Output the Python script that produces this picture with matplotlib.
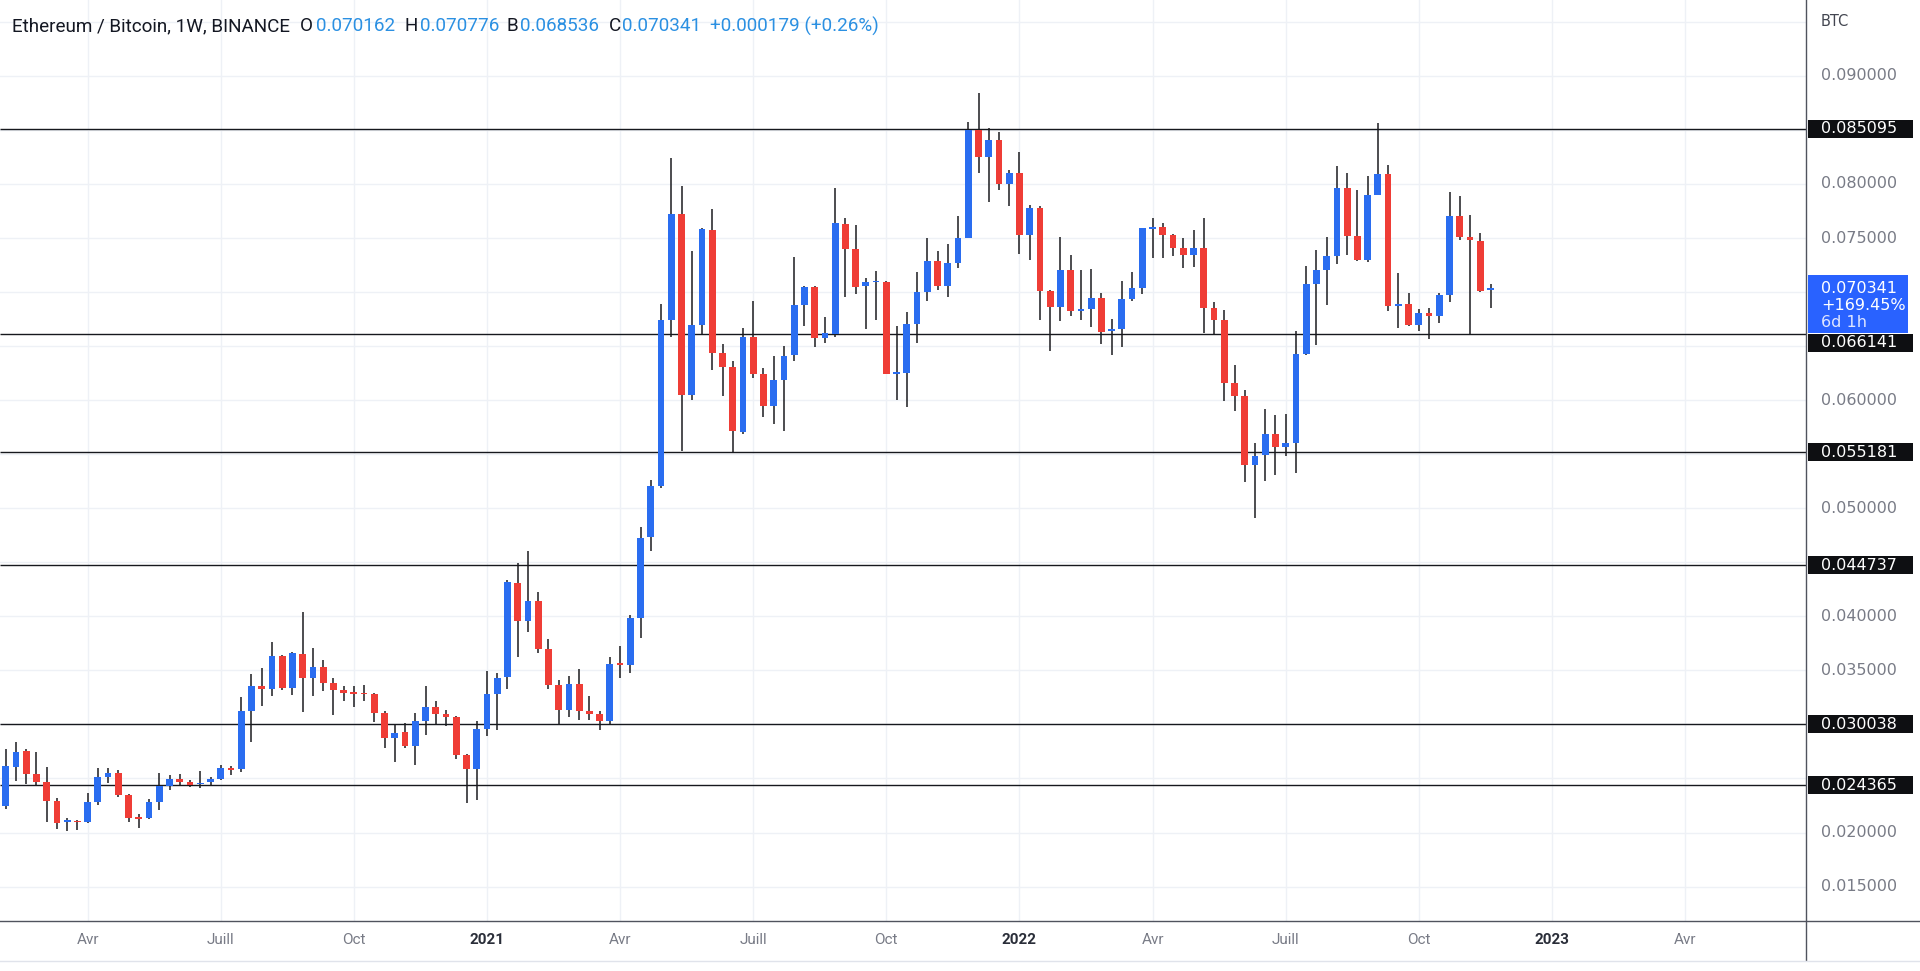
import matplotlib
matplotlib.use("Agg")
import matplotlib.pyplot as plt
import matplotlib.dates as mdates
import matplotlib.transforms as mtransforms
from matplotlib.patches import Rectangle
from matplotlib.lines import Line2D
import numpy as np
import pandas as pd

# ---------------- data ----------------
first_week = "2020-02-10"   # Monday of the first weekly candle

opens = [0.02241, 0.02604, 0.02758, 0.02543, 0.02472, 0.02296, 0.02093, 0.02108, 0.02096, 0.02287,
         0.02518, 0.02555, 0.02349, 0.02142, 0.02130, 0.02287, 0.02432, 0.02496, 0.02472, 0.02447,
         0.02463, 0.02494, 0.02589, 0.02587, 0.03120, 0.03354, 0.03329, 0.03634, 0.03341, 0.03652,
         0.03434, 0.03535, 0.03388, 0.03314, 0.03298, 0.03292, 0.03280, 0.03104, 0.02870, 0.02926,
         0.02802, 0.03033, 0.03160, 0.03098, 0.03070, 0.02713, 0.02590, 0.02957, 0.03281, 0.03435,
         0.04312, 0.03961, 0.04146, 0.03699, 0.03361, 0.03136, 0.03376, 0.03120, 0.03099, 0.03030,
         0.03560, 0.03550, 0.03981, 0.04736, 0.05210, 0.06738, 0.07720, 0.06045, 0.06691, 0.07575,
         0.06436, 0.06303, 0.05706, 0.06580, 0.06245, 0.05949, 0.06189, 0.06414, 0.06882, 0.07046,
         0.06574, 0.06614, 0.07631, 0.07400, 0.07053, 0.07090, 0.07093, 0.06246, 0.06252, 0.06708,
         0.06997, 0.07290, 0.07059, 0.07268, 0.07499, 0.08500, 0.08254, 0.08408, 0.08001, 0.08100,
         0.07530, 0.07776, 0.07010, 0.06866, 0.07205, 0.06829, 0.06842, 0.06943, 0.06641, 0.06657,
         0.06934, 0.07036, 0.07587, 0.07599, 0.07529, 0.07406, 0.07344, 0.07406, 0.06851, 0.06743,
         0.06158, 0.06035, 0.05403, 0.05490, 0.05691, 0.05564, 0.05604, 0.06430, 0.07077, 0.07206,
         0.07335, 0.07967, 0.07523, 0.07298, 0.07899, 0.08093, 0.06873, 0.06889, 0.06698, 0.06806,
         0.06781, 0.06975, 0.07708, 0.07508, 0.07477, 0.070162]
highs = [0.02771, 0.02835, 0.02774, 0.02743, 0.02604, 0.02318, 0.02133, 0.02118, 0.02364, 0.02595,
         0.02595, 0.02580, 0.02355, 0.02173, 0.02309, 0.02549, 0.02533, 0.02540, 0.02487, 0.02573,
         0.02518, 0.02627, 0.02620, 0.03252, 0.03465, 0.03520, 0.03760, 0.03643, 0.03674, 0.04044,
         0.03711, 0.03597, 0.03428, 0.03351, 0.03351, 0.03366, 0.03290, 0.03120, 0.02996, 0.03012,
         0.03104, 0.03360, 0.03221, 0.03129, 0.03079, 0.02728, 0.03036, 0.03495, 0.03475, 0.04337,
         0.04491, 0.04608, 0.04229, 0.03789, 0.03413, 0.03444, 0.03512, 0.03265, 0.03120, 0.03620,
         0.03730, 0.04009, 0.04825, 0.05265, 0.06892, 0.08244, 0.07982, 0.07381, 0.07591, 0.07766,
         0.06519, 0.06359, 0.06667, 0.06913, 0.06297, 0.06411, 0.06503, 0.07329, 0.07052, 0.07058,
         0.06774, 0.07960, 0.07683, 0.07616, 0.07130, 0.07197, 0.07099, 0.06683, 0.06815, 0.07185,
         0.07499, 0.07376, 0.07444, 0.07706, 0.08577, 0.08839, 0.08515, 0.08485, 0.08131, 0.08300,
         0.07807, 0.07792, 0.07015, 0.07513, 0.07344, 0.07205, 0.07214, 0.06996, 0.06749, 0.07107,
         0.07184, 0.07590, 0.07682, 0.07636, 0.07538, 0.07504, 0.07575, 0.07689, 0.06906, 0.06836,
         0.06327, 0.06096, 0.05604, 0.05919, 0.05860, 0.05876, 0.06636, 0.07237, 0.07391, 0.07514,
         0.08170, 0.08099, 0.07945, 0.08078, 0.08567, 0.08176, 0.07175, 0.06991, 0.06843, 0.06852,
         0.06991, 0.07930, 0.07890, 0.07714, 0.07551, 0.070776]
lows = [0.02220, 0.02481, 0.02450, 0.02426, 0.02093, 0.02034, 0.02010, 0.02025, 0.02087, 0.02256,
        0.02456, 0.02327, 0.02102, 0.02041, 0.02124, 0.02210, 0.02389, 0.02426, 0.02420, 0.02410,
        0.02432, 0.02488, 0.02528, 0.02556, 0.02842, 0.03172, 0.03267, 0.03320, 0.03274, 0.03113,
        0.03267, 0.03311, 0.03083, 0.03218, 0.03160, 0.03221, 0.03027, 0.02781, 0.02648, 0.02781,
        0.02627, 0.02898, 0.02996, 0.02981, 0.02679, 0.02273, 0.02303, 0.02889, 0.02945, 0.03327,
        0.03622, 0.03854, 0.03659, 0.03327, 0.02991, 0.03068, 0.03037, 0.03037, 0.02950, 0.03000,
        0.03430, 0.03480, 0.03802, 0.04603, 0.05189, 0.06584, 0.05533, 0.05998, 0.06614, 0.06276,
        0.06035, 0.05520, 0.05690, 0.06205, 0.05845, 0.05780, 0.05712, 0.06359, 0.06688, 0.06491,
        0.06528, 0.06583, 0.06953, 0.06984, 0.06658, 0.06745, 0.06246, 0.05999, 0.05938, 0.06529,
        0.06914, 0.07016, 0.06954, 0.07222, 0.07499, 0.08100, 0.07838, 0.07940, 0.07801, 0.07351,
        0.07299, 0.06744, 0.06451, 0.06728, 0.06780, 0.06743, 0.06675, 0.06518, 0.06414, 0.06491,
        0.06922, 0.06983, 0.07313, 0.07313, 0.07335, 0.07221, 0.07236, 0.06620, 0.06614, 0.05989,
        0.05896, 0.05240, 0.04910, 0.05250, 0.05312, 0.05487, 0.05327, 0.06420, 0.06513, 0.06883,
        0.07258, 0.07339, 0.07283, 0.07277, 0.07899, 0.06821, 0.06667, 0.06689, 0.06636, 0.06566,
        0.06713, 0.06904, 0.07483, 0.06615, 0.06997, 0.068536]
closes = [0.02611, 0.02749, 0.02543, 0.02472, 0.02296, 0.02087, 0.02112, 0.02096, 0.02287, 0.02512,
          0.02555, 0.02343, 0.02139, 0.02127, 0.02278, 0.02426, 0.02493, 0.02466, 0.02444, 0.02456,
          0.02493, 0.02596, 0.02580, 0.03120, 0.03351, 0.03329, 0.03634, 0.03335, 0.03665, 0.03428,
          0.03535, 0.03388, 0.03314, 0.03289, 0.03286, 0.03280, 0.03104, 0.02870, 0.02923, 0.02796,
          0.03033, 0.03160, 0.03098, 0.03070, 0.02713, 0.02590, 0.02956, 0.03281, 0.03429, 0.04319,
          0.03958, 0.04146, 0.03699, 0.03361, 0.03136, 0.03376, 0.03120, 0.03099, 0.03030, 0.03560,
          0.03550, 0.03981, 0.04726, 0.05210, 0.06738, 0.07720, 0.06045, 0.06691, 0.07581, 0.06436,
          0.06303, 0.05712, 0.06580, 0.06245, 0.05949, 0.06189, 0.06411, 0.06882, 0.07046, 0.06574,
          0.06620, 0.07637, 0.07400, 0.07046, 0.07093, 0.07099, 0.06246, 0.06258, 0.06708, 0.06997,
          0.07290, 0.07059, 0.07268, 0.07499, 0.08500, 0.08254, 0.08408, 0.08001, 0.08100, 0.07530,
          0.07776, 0.07006, 0.06866, 0.07205, 0.06829, 0.06842, 0.06943, 0.06635, 0.06657, 0.06934,
          0.07036, 0.07590, 0.07599, 0.07529, 0.07406, 0.07344, 0.07406, 0.06851, 0.06743, 0.06158,
          0.06035, 0.05403, 0.05486, 0.05691, 0.05564, 0.05604, 0.06430, 0.07077, 0.07206, 0.07335,
          0.07967, 0.07523, 0.07298, 0.07899, 0.08093, 0.06867, 0.06886, 0.06698, 0.06806, 0.06781,
          0.06975, 0.07708, 0.07505, 0.07483, 0.07012, 0.070341]

levels = [0.085095, 0.066141, 0.055181, 0.044737, 0.030038, 0.024365]
price_ticks = [0.015, 0.020, 0.025, 0.030, 0.035, 0.040, 0.045, 0.050,
               0.055, 0.060, 0.065, 0.070, 0.075, 0.080, 0.085, 0.090, 0.095]
unit_label = "BTC"

header_title = "Ethereum / Bitcoin, 1W, BINANCE"
ohlc_letters = ["O", "H", "B", "C"]
ohlc_values = ["0.070162", "0.070776", "0.068536", "0.070341"]
change_text = "+0.000179 (+0.26%)"
last_price = 0.070341
last_change = "+169.45%"
countdown = "6d 1h"
month_names = {4: "Avr", 7: "Juill", 10: "Oct"}

# ---------------- style ----------------
BLUE = "#2a6df0"
RED = "#ef3d36"
WICK = "#1b1b1f"
LEVEL = "#16181d"
GRID = "#eef1f6"
AXTXT = "#787b86"
DARK = "#131722"
VALBLUE = "#2b90e2"
BOXBLUE = "#2962ff"

W, H = 1920, 971
fig = plt.figure(figsize=(W / 100, H / 100), dpi=100)
fig.patch.set_facecolor("white")

PR = 1806   # left edge of price scale (px)
PB = 921    # top edge of time scale (px)
ax = fig.add_axes([0, 1 - PB / H, PR / W, PB / H])
ax.set_facecolor("white")
for s in ax.spines.values():
    s.set_visible(False)
ax.set_xticks([])
ax.set_yticks([])

ymin, ymax = 0.011815, 0.097022
ax.set_ylim(ymin, ymax)
upx = (ymax - ymin) / PB   # price units per pixel

dates = pd.date_range(first_week, periods=len(opens), freq="7D")
x = mdates.date2num(dates.to_pydatetime())
px_per_day = 10.24 / 7
x0 = x[0] - 5.7 / px_per_day
x1 = x0 + PR / px_per_day
ax.set_xlim(x0, x1)

# quarter ticks (first weekly bar of Jan/Apr/Jul/Oct)
all_weeks = pd.date_range(first_week, end=mdates.num2date(x1).replace(tzinfo=None), freq="7D")
qticks = [d for d in all_weeks if d.month in (1, 4, 7, 10) and d.day <= 7]

# grid
for t in price_ticks:
    ax.axhline(t, color=GRID, lw=1.0, zorder=0)
for d in qticks:
    ax.axvline(mdates.date2num(d), color=GRID, lw=1.0, zorder=0)

# horizontal levels
ax.hlines(levels, x0, x1, colors=LEVEL, lw=1.0, zorder=2)

# candles
o = np.array(opens); h = np.array(highs); l = np.array(lows); c = np.array(closes)
up = c >= o
cols = np.where(up, BLUE, RED)
body_lo = np.minimum(o, c)
body_h = np.maximum(np.abs(c - o), 1.6 * upx)
ax.vlines(x, l, h, colors=WICK, lw=1.1, zorder=3)
ax.bar(x, body_h, bottom=body_lo, width=0.66 * 7, color=cols, linewidth=0, zorder=4)

# time axis labels
blend = mtransforms.blended_transform_factory(ax.transData, ax.transAxes)
for d in qticks:
    if d.month == 1:
        ax.text(mdates.date2num(d), -19 / PB, str(d.year), transform=blend, ha="center", va="center",
                fontsize=11, fontweight="bold", color="#2a2e39", family="Roboto")
    else:
        ax.text(mdates.date2num(d), -19 / PB, month_names[d.month], transform=blend, ha="center",
                va="center", fontsize=11, color=AXTXT, family="Roboto")

# price scale
axp = fig.add_axes([PR / W, 1 - PB / H, (W - PR) / W, PB / H])
axp.set_xlim(PR, W)
axp.set_ylim(ymin, ymax)
axp.axis("off")
TX = 1821
PFONT = dict(fontsize=11.5, family="DejaVu Sans", va="center", ha="left")
for t in price_ticks:
    if t >= 0.0945:
        continue
    if any(abs(t - lv) < 0.0025 for lv in levels + [last_price]):
        continue
    axp.text(TX, t, f"{t:.6f}", color=AXTXT, **PFONT)
axp.text(TX, 0.095, unit_label, color="#434651", fontsize=10.5, family="DejaVu Sans",
         va="center", ha="left")

# current price box
cp_top = last_price + 13 * upx
cp_bot = last_price - 45 * upx
axp.add_patch(Rectangle((1808, cp_bot), 100, cp_top - cp_bot, facecolor=BOXBLUE,
                        edgecolor="none", zorder=5))
axp.text(TX, last_price, f"{last_price:.6f}", color="white", zorder=6, **PFONT)
axp.text(TX, last_price - 17 * upx, last_change, color="white", zorder=6, **PFONT)
axp.text(TX, last_price - 34 * upx, countdown, color="#dfe6ff", zorder=6, **PFONT)

# level label boxes (pushed below the current price box when they would overlap)
for lv in levels:
    center = lv
    if cp_bot - 9 * upx < lv < cp_top + 9 * upx:
        center = cp_bot - 9.5 * upx
    axp.add_patch(Rectangle((1808, center - 9 * upx), 105, 18 * upx, facecolor="#0e0f12",
                            edgecolor="none", zorder=5))
    axp.text(TX, center, f"{lv:.6f}", color="white", zorder=6, **PFONT)

# separators
fig.add_artist(Line2D([PR / W, PR / W], [1, 1 - 960 / H], color="#50535e", lw=1.0))
fig.add_artist(Line2D([0, 1], [1 - PB / H, 1 - PB / H], color="#50535e", lw=1.0))
fig.add_artist(Line2D([0, 1], [1 - 961 / H, 1 - 961 / H], color="#e0e3eb", lw=1.0))

# header legend
hy = 1 - 26 / H
HF = dict(fontsize=13.6, family="Roboto", va="center", ha="left")
fig.text(12 / W, hy, header_title, color=DARK, **HF)
letter_x = [300, 404, 506, 609]
value_x = [316, 420, 520, 622]
for lt, lx, val, vx in zip(ohlc_letters, letter_x, ohlc_values, value_x):
    fig.text(lx / W, hy, lt, color=DARK, **HF)
    fig.text(vx / W, hy, val, color=VALBLUE, **HF)
fig.text(710 / W, hy, change_text, color=VALBLUE, **HF)

fig.savefig("out.png", dpi=100, facecolor="white")
